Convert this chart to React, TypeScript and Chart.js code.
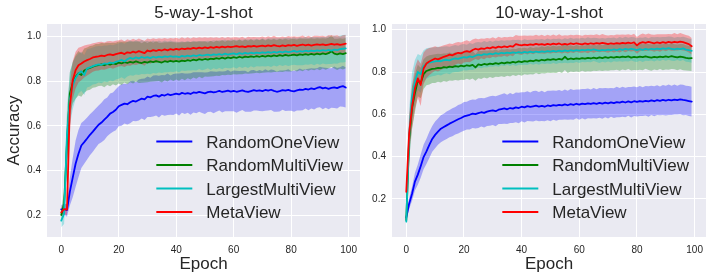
import React, { useEffect, useRef } from "react";
import { Chart, registerables } from "chart.js";

Chart.register(...registerables);

const FONT = '"Liberation Sans", Arial, "DejaVu Sans", sans-serif';
const TEXT = "#262626";

const SERIES = ["RandomOneView", "RandomMultiView", "LargestMultiView", "MetaView"];
const COLORS = ["#0000ff", "#008000", "#00bfbf", "#ff0000"];
const BAND_COLORS = ["rgba(0,0,255,0.3)", "rgba(0,128,0,0.3)", "rgba(0,191,191,0.3)", "rgba(255,0,0,0.3)"];

const EPOCHS = Array.from({ length: 100 }, (_, i) => i);
const X_TICKS = [0, 20, 40, 60, 80, 100];
const Y_TICKS = [0.2, 0.4, 0.6, 0.8, 1.0];

const TITLES = ["5-way-1-shot", "10-way-1-shot"];

// ---------------- 5-way-1-shot ----------------
const L_ROV = [
  0.225,0.226,0.222,0.305,0.368,0.430,0.475,0.512,0.527,0.543,
  0.560,0.574,0.590,0.605,0.615,0.628,0.640,0.655,0.662,0.672,
  0.688,0.694,0.700,0.697,0.706,0.712,0.709,0.716,0.722,0.719,
  0.731,0.728,0.734,0.737,0.731,0.739,0.736,0.742,0.738,0.741,
  0.745,0.741,0.748,0.744,0.747,0.743,0.750,0.748,0.752,0.749,
  0.746,0.751,0.754,0.750,0.753,0.757,0.752,0.755,0.758,0.754,
  0.757,0.753,0.756,0.759,0.755,0.752,0.756,0.760,0.757,0.759,
  0.756,0.761,0.758,0.762,0.757,0.753,0.756,0.760,0.758,0.761,
  0.757,0.755,0.759,0.763,0.761,0.766,0.763,0.768,0.765,0.770,
  0.774,0.768,0.771,0.766,0.770,0.773,0.769,0.775,0.778,0.772,
];
const L_ROV_SD = [
  0.020,0.024,0.030,0.062,0.088,0.104,0.106,0.101,0.097,0.094,
  0.092,0.090,0.088,0.086,0.089,0.091,0.087,0.090,0.088,0.092,
  0.090,0.093,0.089,0.091,0.094,0.090,0.088,0.092,0.089,0.093,
  0.091,0.088,0.092,0.090,0.094,0.089,0.091,0.093,0.088,0.092,
  0.090,0.094,0.089,0.091,0.088,0.093,0.090,0.092,0.089,0.091,
  0.093,0.089,0.091,0.094,0.090,0.088,0.092,0.090,0.093,0.089,
  0.091,0.094,0.090,0.088,0.092,0.089,0.093,0.091,0.088,0.092,
  0.090,0.093,0.089,0.091,0.094,0.090,0.092,0.088,0.091,0.093,
  0.089,0.092,0.090,0.094,0.091,0.088,0.093,0.090,0.092,0.089,
  0.091,0.094,0.090,0.092,0.089,0.093,0.091,0.088,0.092,0.090,
];
const L_RMV = [
  0.200,0.250,0.520,0.745,0.792,0.820,0.836,0.828,0.848,0.855,
  0.860,0.866,0.870,0.873,0.876,0.872,0.878,0.875,0.880,0.877,
  0.884,0.880,0.886,0.882,0.887,0.884,0.889,0.885,0.882,0.887,
  0.884,0.889,0.886,0.890,0.887,0.884,0.890,0.887,0.892,0.888,
  0.891,0.888,0.893,0.890,0.895,0.892,0.897,0.894,0.899,0.896,
  0.900,0.897,0.902,0.899,0.904,0.901,0.906,0.902,0.907,0.904,
  0.908,0.905,0.910,0.906,0.911,0.908,0.912,0.909,0.913,0.910,
  0.914,0.911,0.915,0.912,0.916,0.913,0.917,0.914,0.918,0.915,
  0.917,0.920,0.916,0.921,0.918,0.922,0.919,0.923,0.920,0.924,
  0.921,0.925,0.922,0.926,0.935,0.924,0.921,0.925,0.922,0.926,
];
const L_RMV_SD = [
  0.030,0.050,0.120,0.095,0.092,0.098,0.100,0.097,0.099,0.096,
  0.098,0.095,0.097,0.094,0.096,0.099,0.095,0.097,0.093,0.096,
  0.094,0.097,0.092,0.095,0.091,0.094,0.090,0.093,0.089,0.092,
  0.088,0.091,0.087,0.090,0.086,0.089,0.085,0.088,0.084,0.087,
  0.083,0.086,0.082,0.085,0.081,0.084,0.080,0.083,0.079,0.082,
  0.079,0.077,0.080,0.076,0.079,0.077,0.078,0.075,0.078,0.076,
  0.077,0.075,0.078,0.074,0.076,0.074,0.077,0.073,0.075,0.074,
  0.076,0.072,0.075,0.073,0.074,0.071,0.074,0.072,0.073,0.071,
  0.073,0.070,0.072,0.071,0.073,0.069,0.072,0.070,0.071,0.069,
  0.071,0.068,0.070,0.069,0.071,0.067,0.070,0.068,0.069,0.068,
];
const L_LMV = [
  0.175,0.205,0.560,0.720,0.780,0.815,0.835,0.845,0.828,0.858,
  0.862,0.868,0.872,0.876,0.874,0.880,0.878,0.884,0.881,0.887,
  0.891,0.896,0.889,0.899,0.905,0.901,0.907,0.903,0.909,0.905,
  0.908,0.904,0.910,0.906,0.911,0.907,0.912,0.909,0.913,0.910,
  0.912,0.908,0.914,0.911,0.915,0.912,0.916,0.913,0.918,0.915,
  0.917,0.920,0.916,0.921,0.918,0.922,0.919,0.924,0.920,0.923,
  0.925,0.921,0.926,0.923,0.927,0.924,0.928,0.925,0.929,0.926,
  0.930,0.927,0.931,0.928,0.932,0.929,0.933,0.930,0.934,0.931,
  0.933,0.936,0.932,0.935,0.933,0.937,0.934,0.938,0.935,0.939,
  0.936,0.940,0.937,0.941,0.938,0.942,0.940,0.944,0.946,0.948,
];
const L_LMV_SD = [
  0.030,0.045,0.125,0.120,0.105,0.095,0.090,0.088,0.090,0.086,
  0.085,0.083,0.084,0.082,0.083,0.081,0.082,0.080,0.081,0.079,
  0.080,0.078,0.079,0.077,0.078,0.076,0.077,0.075,0.076,0.074,
  0.074,0.072,0.073,0.071,0.072,0.070,0.071,0.069,0.070,0.068,
  0.067,0.068,0.066,0.065,0.067,0.064,0.066,0.065,0.063,0.065,
  0.064,0.062,0.065,0.063,0.064,0.062,0.065,0.063,0.061,0.064,
  0.062,0.064,0.061,0.063,0.062,0.064,0.061,0.063,0.062,0.060,
  0.063,0.061,0.062,0.064,0.061,0.063,0.060,0.062,0.061,0.063,
  0.061,0.062,0.060,0.063,0.061,0.062,0.060,0.061,0.063,0.060,
  0.062,0.060,0.061,0.063,0.060,0.062,0.061,0.060,0.062,0.061,
];
const L_MV = [
  0.212,0.226,0.224,0.690,0.805,0.850,0.872,0.880,0.889,0.895,
  0.900,0.907,0.910,0.912,0.915,0.913,0.918,0.921,0.917,0.922,
  0.925,0.928,0.922,0.930,0.927,0.933,0.929,0.935,0.931,0.926,
  0.938,0.934,0.940,0.936,0.941,0.938,0.943,0.939,0.944,0.941,
  0.945,0.942,0.947,0.944,0.948,0.945,0.950,0.947,0.951,0.948,
  0.952,0.949,0.953,0.950,0.954,0.951,0.955,0.952,0.956,0.953,
  0.955,0.958,0.954,0.957,0.953,0.958,0.956,0.959,0.955,0.958,
  0.960,0.957,0.961,0.958,0.962,0.959,0.957,0.961,0.958,0.962,
  0.960,0.963,0.959,0.962,0.965,0.961,0.964,0.960,0.963,0.966,
  0.963,0.966,0.962,0.965,0.968,0.964,0.967,0.963,0.966,0.969,
];
const L_MV_SD = [
  0.020,0.022,0.025,0.095,0.085,0.082,0.078,0.075,0.072,0.069,
  0.066,0.064,0.063,0.064,0.062,0.061,0.062,0.060,0.061,0.060,
  0.059,0.060,0.058,0.059,0.057,0.058,0.056,0.057,0.055,0.056,
  0.054,0.055,0.053,0.054,0.052,0.053,0.051,0.052,0.050,0.051,
  0.050,0.049,0.050,0.048,0.049,0.047,0.048,0.047,0.046,0.047,
  0.045,0.046,0.044,0.045,0.044,0.043,0.044,0.042,0.043,0.042,
  0.042,0.040,0.041,0.043,0.040,0.042,0.041,0.040,0.042,0.040,
  0.041,0.039,0.041,0.040,0.042,0.039,0.041,0.040,0.039,0.041,
  0.040,0.039,0.041,0.039,0.040,0.038,0.040,0.039,0.041,0.038,
  0.040,0.038,0.039,0.041,0.038,0.040,0.039,0.038,0.040,0.039,
];

// ---------------- 10-way-1-shot ----------------
const R_ROV = [
  0.112,0.178,0.225,0.282,0.315,0.355,0.398,0.425,0.456,0.484,
  0.503,0.518,0.532,0.540,0.548,0.556,0.563,0.570,0.577,0.583,
  0.590,0.594,0.598,0.603,0.601,0.606,0.610,0.607,0.613,0.616,
  0.619,0.615,0.622,0.625,0.628,0.624,0.630,0.627,0.633,0.630,
  0.636,0.633,0.639,0.635,0.638,0.641,0.637,0.640,0.636,0.642,
  0.639,0.644,0.641,0.645,0.642,0.647,0.643,0.648,0.645,0.650,
  0.646,0.651,0.648,0.652,0.649,0.653,0.650,0.654,0.651,0.655,
  0.652,0.657,0.653,0.658,0.655,0.660,0.656,0.661,0.657,0.662,
  0.659,0.663,0.660,0.664,0.661,0.666,0.662,0.667,0.664,0.668,
  0.665,0.669,0.666,0.670,0.667,0.671,0.668,0.666,0.663,0.660,
];
const R_ROV_SD = [
  0.015,0.025,0.033,0.042,0.048,0.055,0.058,0.060,0.062,0.061,
  0.063,0.062,0.064,0.063,0.065,0.064,0.066,0.065,0.067,0.066,
  0.068,0.066,0.069,0.067,0.068,0.070,0.067,0.069,0.068,0.070,
  0.069,0.071,0.068,0.070,0.072,0.069,0.071,0.068,0.070,0.072,
  0.069,0.071,0.070,0.068,0.072,0.070,0.069,0.071,0.068,0.070,
  0.072,0.069,0.071,0.070,0.068,0.071,0.069,0.072,0.070,0.068,
  0.071,0.069,0.072,0.070,0.068,0.071,0.069,0.070,0.072,0.069,
  0.071,0.068,0.070,0.072,0.069,0.071,0.070,0.068,0.072,0.070,
  0.069,0.071,0.068,0.070,0.072,0.069,0.071,0.070,0.068,0.071,
  0.070,0.072,0.069,0.071,0.068,0.070,0.072,0.069,0.071,0.070,
];
const R_RMV = [
  0.100,0.480,0.630,0.700,0.760,0.748,0.790,0.805,0.810,0.815,
  0.816,0.820,0.818,0.823,0.821,0.826,0.823,0.828,0.825,0.830,
  0.827,0.832,0.829,0.834,0.822,0.836,0.833,0.838,0.835,0.840,
  0.837,0.842,0.839,0.844,0.841,0.846,0.843,0.848,0.845,0.850,
  0.847,0.852,0.849,0.854,0.851,0.856,0.853,0.858,0.855,0.860,
  0.857,0.861,0.858,0.862,0.859,0.872,0.860,0.864,0.861,0.865,
  0.862,0.866,0.863,0.867,0.864,0.868,0.865,0.869,0.866,0.870,
  0.867,0.871,0.868,0.872,0.869,0.873,0.870,0.874,0.868,0.872,
  0.869,0.873,0.870,0.874,0.871,0.868,0.872,0.869,0.873,0.870,
  0.874,0.871,0.875,0.872,0.869,0.873,0.870,0.867,0.865,0.866,
];
const R_RMV_SD = [
  0.015,0.095,0.100,0.090,0.075,0.072,0.070,0.068,0.069,0.067,
  0.068,0.066,0.067,0.065,0.067,0.066,0.064,0.066,0.065,0.067,
  0.065,0.064,0.066,0.065,0.063,0.065,0.066,0.064,0.065,0.063,
  0.065,0.064,0.062,0.064,0.065,0.063,0.064,0.062,0.064,0.063,
  0.065,0.063,0.062,0.064,0.063,0.061,0.063,0.064,0.062,0.063,
  0.062,0.064,0.063,0.061,0.063,0.062,0.064,0.062,0.061,0.063,
  0.062,0.060,0.062,0.063,0.061,0.062,0.060,0.062,0.061,0.063,
  0.061,0.062,0.060,0.061,0.063,0.061,0.062,0.060,0.061,0.062,
  0.060,0.062,0.061,0.059,0.061,0.062,0.060,0.061,0.059,0.061,
  0.062,0.060,0.061,0.059,0.061,0.060,0.062,0.060,0.059,0.061,
];
const R_LMV = [
  0.093,0.500,0.680,0.752,0.800,0.790,0.828,0.840,0.845,0.848,
  0.850,0.853,0.851,0.856,0.858,0.855,0.861,0.864,0.862,0.867,
  0.870,0.868,0.874,0.871,0.877,0.882,0.879,0.885,0.882,0.887,
  0.884,0.889,0.886,0.891,0.888,0.892,0.889,0.893,0.890,0.894,
  0.891,0.895,0.892,0.896,0.893,0.897,0.894,0.898,0.895,0.899,
  0.896,0.900,0.897,0.901,0.898,0.902,0.899,0.903,0.900,0.904,
  0.901,0.905,0.902,0.906,0.903,0.907,0.904,0.901,0.905,0.902,
  0.906,0.903,0.907,0.904,0.908,0.905,0.909,0.906,0.910,0.907,
  0.904,0.908,0.905,0.909,0.906,0.910,0.907,0.911,0.908,0.912,
  0.909,0.913,0.910,0.907,0.911,0.908,0.912,0.906,0.903,0.900,
];
const R_LMV_SD = [
  0.015,0.120,0.118,0.105,0.085,0.088,0.075,0.072,0.070,0.068,
  0.067,0.066,0.067,0.065,0.064,0.065,0.063,0.064,0.062,0.063,
  0.062,0.061,0.063,0.061,0.062,0.060,0.061,0.062,0.060,0.061,
  0.059,0.060,0.061,0.059,0.060,0.058,0.060,0.059,0.061,0.059,
  0.058,0.060,0.059,0.057,0.059,0.058,0.060,0.058,0.057,0.059,
  0.058,0.057,0.059,0.058,0.056,0.058,0.057,0.059,0.057,0.056,
  0.058,0.057,0.056,0.058,0.057,0.055,0.057,0.058,0.056,0.057,
  0.056,0.058,0.056,0.055,0.057,0.056,0.058,0.056,0.055,0.057,
  0.056,0.055,0.057,0.056,0.054,0.056,0.057,0.055,0.056,0.054,
  0.056,0.055,0.057,0.055,0.054,0.056,0.055,0.057,0.055,0.056,
];
const R_MV = [
  0.234,0.510,0.636,0.723,0.770,0.739,0.817,0.840,0.850,0.857,
  0.864,0.860,0.866,0.872,0.876,0.882,0.879,0.886,0.891,0.888,
  0.895,0.899,0.895,0.904,0.910,0.906,0.912,0.909,0.915,0.912,
  0.918,0.914,0.920,0.917,0.921,0.918,0.923,0.920,0.932,0.928,
  0.926,0.930,0.927,0.931,0.928,0.933,0.929,0.932,0.928,0.933,
  0.930,0.934,0.931,0.935,0.929,0.933,0.930,0.935,0.932,0.936,
  0.933,0.931,0.935,0.932,0.936,0.933,0.937,0.934,0.938,0.935,
  0.932,0.936,0.933,0.937,0.934,0.938,0.935,0.939,0.936,0.940,
  0.926,0.937,0.941,0.938,0.942,0.939,0.936,0.940,0.937,0.941,
  0.938,0.942,0.939,0.943,0.940,0.944,0.941,0.937,0.932,0.922,
];
const R_MV_SD = [
  0.020,0.085,0.100,0.098,0.090,0.100,0.075,0.068,0.064,0.060,
  0.058,0.057,0.056,0.055,0.054,0.053,0.054,0.052,0.051,0.052,
  0.050,0.051,0.049,0.050,0.048,0.049,0.047,0.048,0.046,0.047,
  0.046,0.045,0.047,0.045,0.044,0.046,0.044,0.045,0.043,0.044,
  0.045,0.043,0.044,0.042,0.044,0.043,0.042,0.044,0.042,0.043,
  0.042,0.043,0.041,0.043,0.042,0.041,0.043,0.041,0.042,0.040,
  0.042,0.040,0.041,0.043,0.040,0.042,0.041,0.040,0.042,0.040,
  0.041,0.039,0.041,0.040,0.042,0.039,0.041,0.040,0.039,0.041,
  0.040,0.039,0.041,0.039,0.040,0.038,0.040,0.039,0.041,0.038,
  0.040,0.038,0.039,0.041,0.038,0.040,0.039,0.038,0.040,0.039,
];

const LEFT_MEANS = [L_ROV, L_RMV, L_LMV, L_MV];
const LEFT_SDS = [L_ROV_SD, L_RMV_SD, L_LMV_SD, L_MV_SD];
const RIGHT_MEANS = [R_ROV, R_RMV, R_LMV, R_MV];
const RIGHT_SDS = [R_ROV_SD, R_RMV_SD, R_LMV_SD, R_MV_SD];

const toPts = (vals: number[]) => vals.map((y, i) => ({ x: EPOCHS[i], y }));

function buildDatasets(means: number[][], sds: number[][]) {
  const ds: any[] = [];
  // lines (lowest order is drawn on top -> MetaView on top)
  SERIES.forEach((name, k) => {
    ds.push({
      label: name,
      legendLine: true,
      data: toPts(means[k]),
      borderColor: COLORS[k],
      backgroundColor: COLORS[k],
      borderWidth: 1.8,
      borderJoinStyle: "round",
      borderCapStyle: "round",
      pointRadius: 0,
      fill: false,
      tension: 0,
      order: 4 - k,
    });
  });
  // bands: upper filled to the following (lower) dataset
  SERIES.forEach((name, k) => {
    const up = means[k].map((m, i) => m + sds[k][i]);
    const lo = means[k].map((m, i) => m - sds[k][i]);
    ds.push({
      label: "",
      data: toPts(up),
      borderColor: "rgba(0,0,0,0)",
      borderWidth: 0,
      pointRadius: 0,
      backgroundColor: BAND_COLORS[k],
      fill: "+1",
      tension: 0,
      order: 14 - k,
    });
    ds.push({
      label: "",
      data: toPts(lo),
      borderColor: "rgba(0,0,0,0)",
      borderWidth: 0,
      pointRadius: 0,
      fill: false,
      tension: 0,
      order: 14 - k,
    });
  });
  return ds;
}

const bgPlugin = {
  id: "plotBg",
  beforeDraw(chart: any) {
    const { ctx, chartArea: a } = chart;
    ctx.save();
    ctx.fillStyle = "#eaeaf2";
    ctx.fillRect(a.left, a.top, a.right - a.left, a.bottom - a.top);
    ctx.restore();
  },
};

const legendPlugin = {
  id: "innerLegend",
  afterDraw(chart: any) {
    const { ctx, chartArea: a } = chart;
    const items = chart.data.datasets.filter((d: any) => d.legendLine);
    ctx.save();
    ctx.font = `17px ${FONT}`;
    const maxW = Math.max(...items.map((d: any) => ctx.measureText(d.label).width));
    const textX = a.right - 17 - maxW;
    const n = items.length;
    items.forEach((d: any, i: number) => {
      const y = a.bottom - 25 - (n - 1 - i) * 23.5;
      ctx.strokeStyle = d.borderColor;
      ctx.lineWidth = 2;
      ctx.beginPath();
      ctx.moveTo(textX - 50, y);
      ctx.lineTo(textX - 14, y);
      ctx.stroke();
      ctx.fillStyle = TEXT;
      ctx.textBaseline = "middle";
      ctx.textAlign = "left";
      ctx.fillText(d.label, textX, y + 1.5);
    });
    ctx.restore();
  },
};

function makeConfig(
  title: string,
  means: number[][],
  sds: number[][],
  yMin: number,
  yMax: number,
  yWidth: number,
  showYTitle: boolean,
  padRight: number
): any {
  return {
    type: "line",
    data: { datasets: buildDatasets(means, sds) },
    plugins: [bgPlugin, legendPlugin],
    options: {
      responsive: false,
      maintainAspectRatio: false,
      animation: false,
      devicePixelRatio: 1,
      layout: { padding: { left: 0, right: padRight, top: 0, bottom: 0 } },
      plugins: {
        legend: { display: false },
        tooltip: { enabled: false },
        title: {
          display: true,
          text: title,
          fullSize: false,
          color: TEXT,
          font: { family: FONT, size: 17, weight: "normal" },
          padding: { top: 3, bottom: 0.6 },
        },
      },
      scales: {
        x: {
          type: "linear",
          min: -4.95,
          max: 103.95,
          afterBuildTicks: (s: any) => {
            s.ticks = X_TICKS.map((v) => ({ value: v }));
          },
          afterFit: (s: any) => {
            s.height = 43;
            s.paddingLeft = 0;
            s.paddingRight = 0;
          },
          ticks: {
            padding: 7,
            color: TEXT,
            font: { family: FONT, size: 10 },
            maxRotation: 0,
            autoSkip: false,
            callback: (v: any) => String(v),
          },
          grid: { color: "#ffffff", lineWidth: 1, drawTicks: false },
          border: { display: false },
          title: {
            display: true,
            text: "Epoch",
            color: TEXT,
            font: { family: FONT, size: 17 },
            padding: { top: 0, bottom: 5 },
          },
        },
        y: {
          type: "linear",
          min: yMin,
          max: yMax,
          afterBuildTicks: (s: any) => {
            s.ticks = Y_TICKS.map((v) => ({ value: v }));
          },
          afterFit: (s: any) => {
            s.width = yWidth;
            s.paddingTop = 0;
            s.paddingBottom = 0;
          },
          ticks: {
            padding: 6,
            color: TEXT,
            font: { family: FONT, size: 10 },
            callback: (v: any) => Number(v).toFixed(1),
          },
          grid: { color: "#ffffff", lineWidth: 1, drawTicks: false },
          border: { display: false },
          title: {
            display: showYTitle,
            text: "Accuracy",
            color: TEXT,
            font: { family: FONT, size: 17 },
            padding: { top: 4, bottom: 0 },
          },
        },
      },
    },
  };
}

export default function App() {
  const leftRef = useRef<HTMLCanvasElement | null>(null);
  const rightRef = useRef<HTMLCanvasElement | null>(null);

  useEffect(() => {
    const left = new Chart(
      leftRef.current as HTMLCanvasElement,
      makeConfig(TITLES[0], LEFT_MEANS, LEFT_SDS, 0.1013, 1.057, 47, true, 0)
    );
    const right = new Chart(
      rightRef.current as HTMLCanvasElement,
      makeConfig(TITLES[1], RIGHT_MEANS, RIGHT_SDS, 0.0204, 1.027, 32, false, 6)
    );
    return () => {
      left.destroy();
      right.destroy();
    };
  }, []);

  return (
    <div style={{ position: "absolute", left: 0, top: 0, width: 712, height: 280, background: "#ffffff" }}>
      <canvas ref={leftRef} width={360} height={280} style={{ position: "absolute", left: 0, top: 0 }} />
      <canvas ref={rightRef} width={352} height={280} style={{ position: "absolute", left: 360, top: 0 }} />
    </div>
  );
}
